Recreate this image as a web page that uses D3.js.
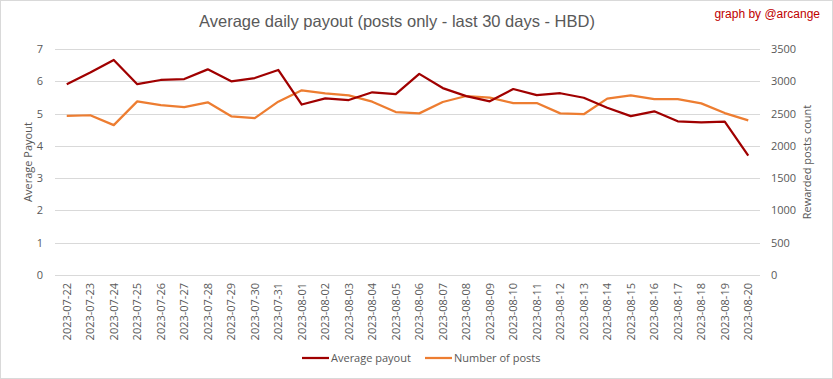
<!DOCTYPE html>
<html>
<head>
<meta charset="utf-8">
<script src="https://cdn.jsdelivr.net/npm/d3@7"></script>
<style>
  body { margin: 0; background: #fff; }
  svg { display: block; }
</style>
</head>
<body>
<div id="chart"></div>
<script>
const dates = ["2023-07-22","2023-07-23","2023-07-24","2023-07-25","2023-07-26","2023-07-27","2023-07-28","2023-07-29","2023-07-30","2023-07-31",
  "2023-08-01","2023-08-02","2023-08-03","2023-08-04","2023-08-05","2023-08-06","2023-08-07","2023-08-08","2023-08-09","2023-08-10",
  "2023-08-11","2023-08-12","2023-08-13","2023-08-14","2023-08-15","2023-08-16","2023-08-17","2023-08-18","2023-08-19","2023-08-20"]
const payout = [5.91,6.27,6.66,5.91,6.04,6.07,6.37,6.00,6.10,6.35,5.28,5.47,5.42,5.66,5.60,6.23,5.79,5.54,5.38,5.76,5.57,5.63,5.49,5.18,4.92,5.07,4.76,4.73,4.75,3.70]
const posts = [2464,2474,2321,2689,2632,2600,2674,2458,2430,2684,2860,2813,2782,2684,2523,2503,2679,2772,2746,2663,2663,2503,2490,2731,2782,2725,2725,2658,2508,2394]
const leftTicks = [0,1,2,3,4,5,6,7]
const rightTicks = [0,500,1000,1500,2000,2500,3000,3500]

const W = 833, H = 379
const MARGIN = {TOP:49, BOTTOM:104, LEFT:55, RIGHT:73}
const WIDTH = W - MARGIN.LEFT - MARGIN.RIGHT
const HEIGHT = H - MARGIN.TOP - MARGIN.BOTTOM
const RED = "#a00000", ORANGE = "#ed7d31", GREY = "#595959"
const FONT = "'Open Sans', sans-serif"

const svg = d3.select("#chart").append("svg")
    .attr("width", W).attr("height", H)

svg.append("rect")
    .attr("x", 0.5).attr("y", 0.5)
    .attr("width", W - 1).attr("height", H - 1)
    .attr("fill", "#fff").attr("stroke", "#d9d9d9")

const g = svg.append("g")
    .attr("transform", `translate(${MARGIN.LEFT}, ${MARGIN.TOP})`)

const x = d3.scaleBand().domain(dates).range([0, WIDTH])
const yL = d3.scaleLinear().domain([0, 7]).range([HEIGHT, 0])
const yR = d3.scaleLinear().domain([0, 3500]).range([HEIGHT, 0])

// gridlines
g.append("g").selectAll("line")
    .data(leftTicks)
    .join("line")
    .attr("x1", 0).attr("x2", WIDTH)
    .attr("y1", d => Math.round(yL(d)) + 0.5).attr("y2", d => Math.round(yL(d)) + 0.5)
    .attr("stroke", "#d9d9d9").attr("stroke-width", 1)

// left axis
const leftAxis = g.append("g")
    .attr("transform", "translate(-12, 0)")
    .call(d3.axisLeft(yL).tickValues(leftTicks).tickFormat(d3.format("d")).tickSize(0).tickPadding(0))
leftAxis.select(".domain").remove()

// right axis
const rightAxis = g.append("g")
    .attr("transform", `translate(${WIDTH + 11}, 0)`)
    .call(d3.axisRight(yR).tickValues(rightTicks).tickFormat(d3.format("d")).tickSize(0).tickPadding(0))
rightAxis.select(".domain").remove()

// x axis
const xAxis = g.append("g")
    .attr("transform", `translate(0, ${HEIGHT})`)
    .call(d3.axisBottom(x).tickSize(0))
xAxis.select(".domain").remove()
xAxis.selectAll("text")
    .attr("transform", "rotate(-90)")
    .attr("text-anchor", "end")
    .attr("x", -8).attr("y", 0).attr("dy", "0.35em")

svg.selectAll(".tick text")
    .attr("fill", GREY)
    .style("font-family", FONT).style("font-size", "11px")

// lines
const cx = d => x(d) + x.bandwidth() / 2
g.append("path")
    .datum(posts)
    .attr("fill", "none").attr("stroke", ORANGE).attr("stroke-width", 2.25)
    .attr("stroke-linejoin", "round")
    .attr("d", d3.line().x((d, i) => cx(dates[i])).y(d => yR(d)))

g.append("path")
    .datum(payout)
    .attr("fill", "none").attr("stroke", RED).attr("stroke-width", 2.25)
    .attr("stroke-linejoin", "round")
    .attr("d", d3.line().x((d, i) => cx(dates[i])).y(d => yL(d)))

// titles
svg.append("text")
    .attr("x", 397).attr("y", 27)
    .attr("text-anchor", "middle")
    .attr("fill", GREY)
    .style("font-family", "'Liberation Sans Narrow', sans-serif").style("font-size", "16.5px")
    .text("Average daily payout (posts only - last 30 days - HBD)")

svg.append("text")
    .attr("x", 820).attr("y", 18)
    .attr("text-anchor", "end")
    .attr("fill", "#c00000")
    .style("font-family", "'Liberation Sans Narrow', sans-serif").style("font-size", "12px")
    .text("graph by @arcange")

svg.append("text")
    .attr("transform", `translate(32, ${MARGIN.TOP + HEIGHT / 2}) rotate(-90)`)
    .attr("text-anchor", "middle")
    .attr("fill", GREY)
    .style("font-family", FONT).style("font-size", "11px")
    .text("Average Payout")

svg.append("text")
    .attr("transform", `translate(811, ${MARGIN.TOP + HEIGHT / 2}) rotate(-90)`)
    .attr("text-anchor", "middle")
    .attr("fill", GREY)
    .style("font-family", FONT).style("font-size", "11px")
    .text("Rewarded posts count")

// legend
const legend = [
  {name: "Average payout", color: RED, x: 302},
  {name: "Number of posts", color: ORANGE, x: 425}
]
const lg = svg.append("g").selectAll("g")
    .data(legend)
    .join("g")
    .attr("transform", d => `translate(${d.x}, 358)`)
lg.append("line")
    .attr("x1", 0).attr("x2", 27)
    .attr("stroke", d => d.color).attr("stroke-width", 2.25)
lg.append("text")
    .attr("x", 29).attr("dy", "0.35em")
    .attr("fill", GREY)
    .style("font-family", FONT).style("font-size", "11px")
    .text(d => d.name)
</script>
</body>
</html>
